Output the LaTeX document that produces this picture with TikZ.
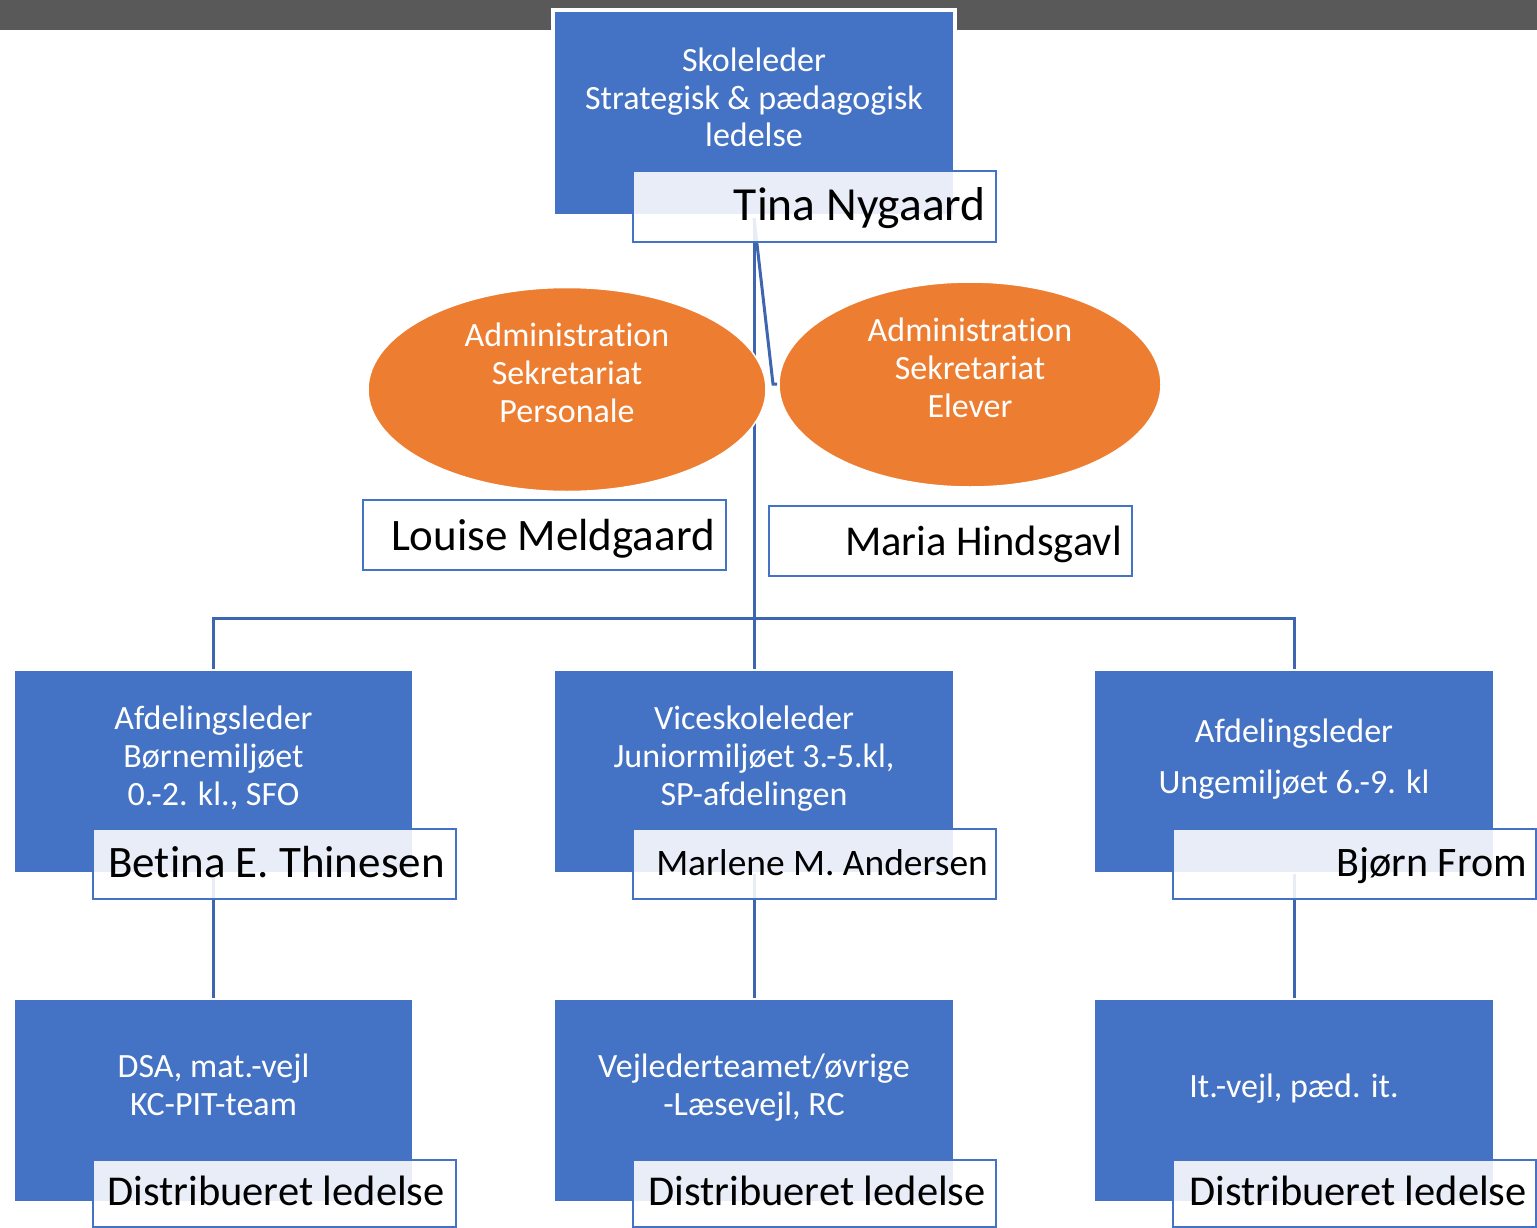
\documentclass[tikz,border=0pt]{standalone}
\usepackage{fontspec}
\setmainfont[RawFeature={-liga;-clig;-calt;-dlig}]{Carlito}
\usetikzlibrary{shapes.geometric,backgrounds}
\definecolor{boxblue}{HTML}{4472C4}
\definecolor{linkblue}{HTML}{3E66B0}
\definecolor{accorange}{HTML}{ED7D31}
\definecolor{bargray}{HTML}{595959}
\begin{document}
\begin{tikzpicture}[x=1pt,y=-1pt,
 bluebox/.style={rectangle, fill=boxblue, draw=white, line width=1.5pt, minimum width=399pt, minimum height=203pt, inner sep=0pt},
 namebox/.style={rectangle, fill=white, fill opacity=0.88, draw=boxblue, line width=2pt, minimum width=363pt, minimum height=70pt, inner sep=0pt},
 oval/.style={ellipse, fill=accorange, draw=white, line width=1.5pt, inner sep=0pt},
 link/.style={draw=linkblue, line width=3pt},
 wtext/.style={text=white, font=\fontsize{34}{38}\selectfont, align=center, anchor=base, inner sep=0pt},
 ntext/.style={text=black, anchor=base east, inner sep=0pt, font=\fontsize{46}{50}\selectfont}]
\useasboundingbox (0,0) rectangle (1537,1228);
\fill[bargray] (0,0) rectangle (1537,30);

% blue boxes
\node[bluebox, line width=4pt, minimum width=402pt, minimum height=206pt] (top) at (754,113) {};
\node[bluebox] (afd1) at (213.5,771.5) {};
\node[bluebox] (vice) at (754,771.5) {};
\node[bluebox] (afd3) at (1294,771.5) {};
\node[bluebox] (dsa) at (213.5,1100.5) {};
\node[bluebox] (vejl) at (754,1100.5) {};
\node[bluebox] (itv) at (1294,1100.5) {};

% ellipses
\node[oval, minimum width=398pt, minimum height=204pt] (admP) at (567,389.5) {};
\node[oval, minimum width=382pt, minimum height=205pt] (admE) at (970,384.5) {};

% name boxes
\node[namebox] (tinaB) at (814.5,206.5) {};
\node[namebox] (louiseB) at (544,535) {};
\node[namebox] (mariaB) at (950,540.5) {};
\node[namebox] (betinaB) at (274,864) {};
\node[namebox] (marleneB) at (814.5,864) {};
\node[namebox] (bjornB) at (1354.5,864) {};
\node[namebox, minimum height=67pt] (distA) at (274,1193) {};
\node[namebox, minimum height=67pt] (distB) at (814.5,1193) {};
\node[namebox, minimum height=67pt] (distC) at (1354.5,1193) {};

% connectors
\coordinate (bus) at (754,618);
\coordinate (asstEnd) at (773,384);
\begin{scope}[on background layer]
\draw[link] (top.south) -- (vice.north);
\draw[link] (afd1.north) |- (bus) -| (afd3.north);
\draw[link] (top.south) -- (asstEnd) -- ++(4,0);
\draw[link] (afd1.south) -- (dsa.north);
\draw[link] (vice.south) -- (vejl.north);
\draw[link] (afd3.south) -- (itv.north);
\end{scope}

% texts in blue boxes and ellipses (anchor = baseline of last line)
\node[wtext] (topT) at (754,147) {Skoleleder\\Strategisk \& pædagogisk\\ledelse};
\node[wtext] (admPT) at (567,422) {Administration\\Sekretariat\\Personale};
\node[wtext] (admET) at (970,417) {Administration\\Sekretariat\\Elever};
\node[wtext] (afd1T) at (213.5,805) {Afdelingsleder\\Børnemiljøet\\0.-2. kl., SFO};
\node[wtext] (viceT) at (754,805) {Viceskoleleder\\Juniormiljøet 3.-5.kl,\\SP-afdelingen};
\node[wtext] (afd3T) at (1294,793) {Afdelingsleder\\[13pt]Ungemiljøet 6.-9. kl};
\node[wtext] (dsaT) at (213.5,1115) {DSA, mat.-vejl\\KC-PIT-team};
\node[wtext] (vejlT) at (754,1115) {Vejlederteamet/øvrige\\-Læsevejl, RC};
\node[wtext] (itvT) at (1294,1097) {It.-vejl, pæd. it.};

% names
\node[ntext, font=\fontsize{47.5}{52}\selectfont] (tinaT) at (986,220) {Tina Nygaard};
\node[ntext, font=\fontsize{45}{50}\selectfont] (louiseT) at (715,550) {Louise Meldgaard};
\node[ntext, font=\fontsize{42.5}{46}\selectfont] (mariaT) at (1122,555) {Maria Hindsgavl};
\node[ntext, font=\fontsize{45}{50}\selectfont] (betinaT) at (445,877) {Betina E. Thinesen};
\node[ntext, font=\fontsize{37.4}{42}\selectfont] (marleneT) at (988,875) {Marlene M. Andersen};
\node[ntext, font=\fontsize{42}{46}\selectfont] (bjornT) at (1527,876) {Bjørn From};
\node[ntext, font=\fontsize{42.5}{46}\selectfont] (distAT) at (445,1205) {Distribueret ledelse};
\node[ntext, font=\fontsize{42.5}{46}\selectfont] (distBT) at (986,1205) {Distribueret ledelse};
\node[ntext, font=\fontsize{42.5}{46}\selectfont] (distCT) at (1527,1205) {Distribueret ledelse};
\end{tikzpicture}
\end{document}
